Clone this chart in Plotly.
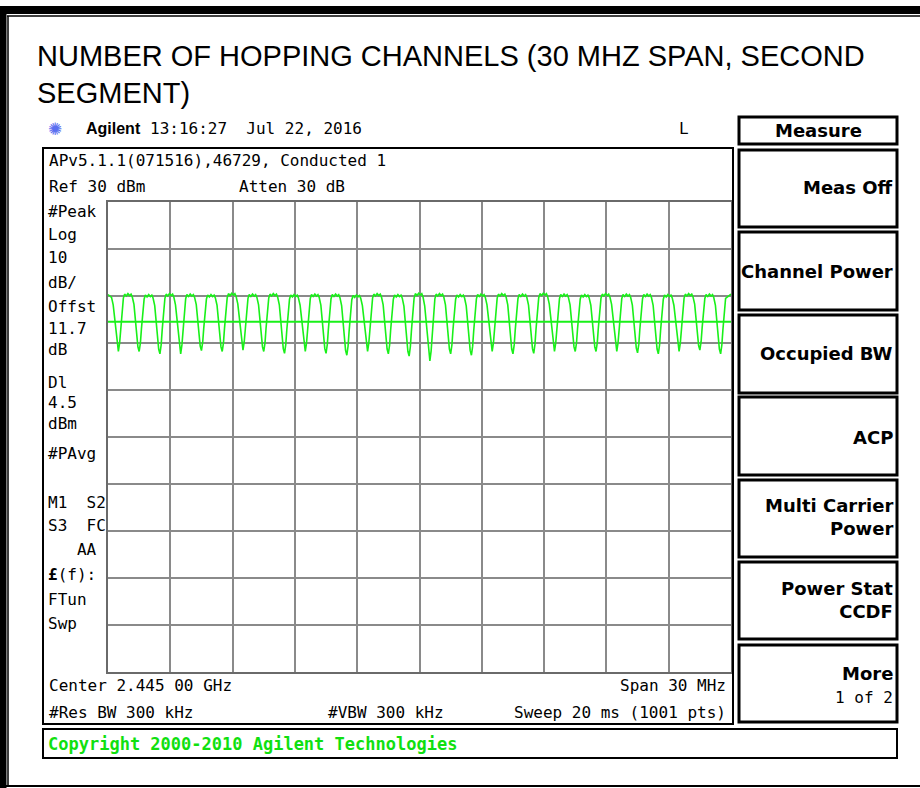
import plotly.graph_objects as go

W, H = 920, 788

# ---------------- data ----------------
span_start_mhz = 2430.0
span_stop_mhz = 2460.0
ref_level_dbm = 30
db_per_div = 10
display_line_dbm = 4.5

# frequencies of the notches between hopping channels (MHz)
dip_freq_mhz = [2430.5, 2431.5, 2432.5, 2433.5, 2434.5, 2435.5, 2436.5, 2437.5,
                2438.5, 2439.5, 2440.5, 2441.5, 2442.5, 2443.5, 2444.5, 2445.5,
                2446.5, 2447.5, 2448.5, 2449.5, 2450.5, 2451.5, 2452.5, 2453.5,
                2454.5, 2455.5, 2456.5, 2457.5, 2458.5, 2459.5]
# notch bottom levels (dBm)
dip_dbm = [-1.8, -1.8, -2.3, -2.3, -1.6, -1.8, -1.5, -1.8, -2.2, -1.8,
           -2.2, -2.6, -1.8, -2.3, -2.8, -3.8, -2.3, -2.6, -1.8, -2.3,
           -2.2, -1.8, -1.8, -1.8, -1.8, -2.1, -2.3, -1.8, -1.5, -2.3]
# channel plateau levels (dBm), 2430 ... 2460 MHz
top_dbm = [10.3, 10.4, 10.2, 10.4, 10.3, 10.2, 10.5, 10.3, 10.4, 10.2, 10.3,
           10.3, 10.1, 10.4, 10.2, 10.5, 10.4, 10.2, 10.3, 10.4, 10.3, 10.5,
           10.3, 10.2, 10.4, 10.3, 10.3, 10.2, 10.4, 10.3, 10.4]

left_labels = ["#Peak", "Log", "10", "dB/", "Offst", "11.7", "dB", "Dl", "4.5",
               "dBm", "#PAvg", "M1  S2", "S3  FC", "   AA", "<b>£</b>(f):", "FTun", "Swp"]
softkeys = ["Meas Off", "Channel Power", "Occupied BW", "ACP",
            "Multi Carrier<br>Power", "Power Stat<br>CCDF", "More"]

# ---------------- trace geometry (shape of each notch) ----------------
notch_offsets = [-0.33, -0.25, -0.18, -0.12, -0.06, 0.0, 0.06, 0.11, 0.17, 0.24]
notch_depth = [0.05, 0.18, 0.42, 0.65, 0.92, 1.0, 0.85, 0.6, 0.3, 0.07]
plateau_offsets = [-0.2, -0.12, -0.04, 0.04, 0.11]
plateau_ripple = [0.0, -0.4, 0.1, -0.3, 0.0]

fx, fy = [span_start_mhz], [top_dbm[0]]
for i, (fd, dd) in enumerate(zip(dip_freq_mhz, dip_dbm)):
    top_l = top_dbm[i]
    top_r = top_dbm[i + 1]
    for o, d in zip(notch_offsets, notch_depth):
        t = top_l if o < 0 else top_r
        fx.append(fd + o)
        fy.append(t - d * (t - dd))
    if i + 1 < len(dip_freq_mhz):
        c = fd + 0.5
        for o, r in zip(plateau_offsets, plateau_ripple):
            fx.append(c + o)
            fy.append(top_r + r)
fx.append(span_stop_mhz)
fy.append(top_dbm[-1])


def X(px):
    return px / W


def Y(py):
    return 1 - py / H


GREEN = "#19f019"
MONO = "DejaVu Sans Mono"

fig = go.Figure()
fig.add_trace(go.Scatter(x=fx, y=fy, mode="lines",
                         line=dict(color=GREEN, width=1.6), hoverinfo="skip"))

fig.update_layout(
    width=W, height=H, margin=dict(l=0, r=0, t=0, b=0),
    paper_bgcolor="white", plot_bgcolor="white", showlegend=False,
    xaxis=dict(domain=[X(108), X(731)], range=[span_start_mhz, span_stop_mhz],
               dtick=3, tick0=span_start_mhz, showgrid=True, gridcolor="#8a8a8a",
               gridwidth=2, showticklabels=False, zeroline=False, ticks="",
               showline=True, linecolor="#6a6a6a", linewidth=2, mirror=True),
    yaxis=dict(domain=[Y(672), Y(202)], range=[ref_level_dbm - 10 * db_per_div, ref_level_dbm],
               dtick=db_per_div, showgrid=True, gridcolor="#8a8a8a", gridwidth=2,
               showticklabels=False, zeroline=False, ticks="",
               showline=True, linecolor="#6a6a6a", linewidth=2, mirror=True),
)

shapes = []
# display line
shapes.append(dict(type="line", xref="x domain", yref="y", x0=0, x1=1,
                   y0=display_line_dbm, y1=display_line_dbm,
                   line=dict(color=GREEN, width=2)))


def rect(x0, y0, x1, y1, w=2, color="black"):
    shapes.append(dict(type="rect", xref="paper", yref="paper",
                       x0=X(x0), x1=X(x1), y0=Y(y1), y1=Y(y0),
                       line=dict(color=color, width=w), fillcolor="rgba(0,0,0,0)"))


def hline(x0, x1, y, w, color="black"):
    shapes.append(dict(type="line", xref="paper", yref="paper",
                       x0=X(x0), x1=X(x1), y0=Y(y), y1=Y(y),
                       line=dict(color=color, width=w)))


def vline(x, y0, y1, w, color="black"):
    shapes.append(dict(type="line", xref="paper", yref="paper",
                       x0=X(x), x1=X(x), y0=Y(y0), y1=Y(y1),
                       line=dict(color=color, width=w)))


# outer page border
hline(0, W, 10, 8)
hline(7, W, 16, 1.5)
vline(3, 6, H, 7)
vline(8, 16, 786, 1.5)
hline(0, W, 786, 2)

# main display box
rect(43, 148, 733, 724, 2)
# copyright bar
rect(43, 729, 897, 758, 2)
# softkey column
rect(739, 117, 897, 144, 3)
key_boxes = [(150, 227), (232, 310), (315, 393), (397, 475), (480, 557), (562, 639), (645, 722)]
for (a, b) in key_boxes:
    rect(739, a, 897, b, 3)

fig.update_layout(shapes=shapes)

ann = []


def txt(x, y, s, size=16, family=MONO, color="black", anchor="left", bold=False):
    if bold:
        s = "<b>" + s + "</b>"
    ann.append(dict(x=X(x), y=Y(y), xref="paper", yref="paper", text=s,
                    showarrow=False, xanchor=anchor, yanchor="middle",
                    font=dict(size=size, family=family, color=color), align=anchor))


# title
txt(35, 56, "NUMBER OF HOPPING CHANNELS (30 MHZ SPAN, SECOND",
    size=29, family="Liberation Sans")
txt(35, 93, "SEGMENT)", size=29, family="Liberation Sans")

# header
txt(46, 129, "✺", size=17, family="DejaVu Sans", color="#5a6ef0")
txt(84, 129, "Agilent", size=16, family="Liberation Sans", bold=True)
txt(148, 129, "13:16:27  Jul 22, 2016", size=16)
txt(677, 129, "L", size=16)

txt(47, 161, "APv5.1.1(071516),46729, Conducted 1", size=16)
txt(47, 186, "Ref 30 dBm", size=16)
txt(237, 186, "Atten 30 dB", size=16)

left_y = [211, 235, 258, 282, 306, 329, 350, 382, 403, 424, 453,
          502, 525, 549, 574, 599, 623]
for s, y in zip(left_labels, left_y):
    txt(46, y, s.replace(" ", "&nbsp;"), size=16)

txt(47, 685, "Center 2.445 00 GHz", size=16)
txt(728, 685, "Span 30 MHz", size=16, anchor="right")
txt(47, 712, "#Res BW 300 kHz", size=16)
txt(326, 712, "#VBW 300 kHz", size=16)
txt(728, 712, "Sweep 20 ms (1001 pts)", size=16, anchor="right")

txt(46, 744, "Copyright 2000-2010 Agilent Technologies", size=17,
    color="#10e010", bold=True)

# softkeys
txt(818, 130, "Measure", size=18, family="DejaVu Sans", anchor="center", bold=True)
key_y = [188, 271, 353, 437, 517, 600, 673]
for s, y in zip(softkeys, key_y):
    txt(895, y, s, size=18, family="DejaVu Sans", anchor="right", bold=True)
txt(895, 697, "1 of 2", size=16, anchor="right")

fig.update_layout(annotations=ann)
fig.write_html("out.html", config={"displayModeBar": False},
               post_script="document.body.style.margin='0px';")
